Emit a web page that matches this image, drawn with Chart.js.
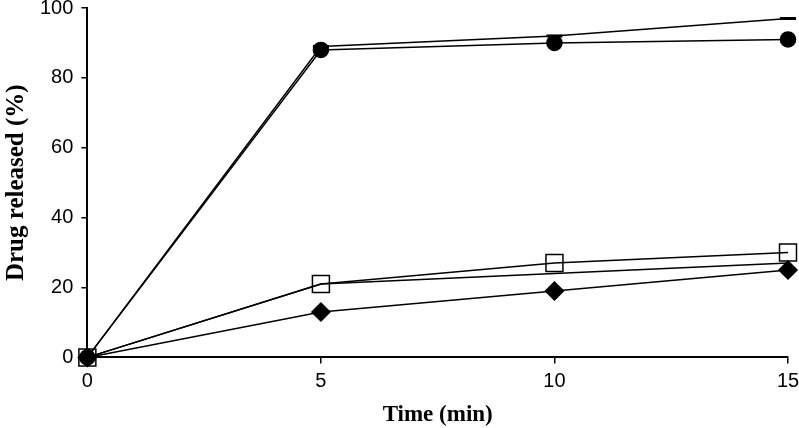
<!DOCTYPE html>
<html>
<head>
<meta charset="utf-8">
<script src="https://cdn.jsdelivr.net/npm/chart.js@4"></script>
<style>
    html, body { margin: 0; padding: 0; background: #fff; }
    #wrap { width: 799px; height: 428px; }
</style>
</head>
<body>
<div id="wrap"><canvas id="canvas"></canvas></div>
<script>
"use strict"

/* Data */
let times = [0, 5, 10, 15];
let circleValues = [0, 88, 90, 91];
let dashValues = [0, 89, 92, 97];
let squareValues = [0, 21, 27, 30];
let plainValues = [0, 21, 24, 27];
let diamondValues = [0, 13, 19, 25];

let yTicks = [0, 20, 40, 60, 80, 100];
let xTicks = [0, 5, 10, 15];

let black = "#000";

function toPoints(values) {
    return times.map((t, i) => ({ x: t, y: values[i] }));
}

function series(values, style, radius, fill) {
    return {
        data: toPoints(values),
        showLine: true,
        borderColor: black,
        borderWidth: 1.5,
        pointStyle: style,
        pointRadius: radius,
        pointBackgroundColor: fill,
        pointBorderColor: black,
        pointBorderWidth: style === "line" ? 3 : 1.5,
    };
}

const ctx = document.getElementById("canvas").getContext("2d");
const myChart = new Chart(ctx, {
    type: "scatter",
    data: {
        datasets: [
            series(plainValues, false, 0, black),
            series(dashValues, "line", 8, black),
            series(squareValues, "rect", 12, "rgba(0,0,0,0)"),
            series(diamondValues, "rectRot", 9, black),
            series(circleValues, "circle", 7.5, black),
        ]
    },
    options: {
        responsive: true,
        maintainAspectRatio: false,
        animation: false,
        clip: false,
        layout: {
            autoPadding: false,
            padding: { top: 8, right: 11, left: -2, bottom: -5 }
        },
        scales: {
            x: {
                type: "linear",
                min: 0,
                max: 15,
                afterBuildTicks: axis => { axis.ticks = xTicks.map(v => ({ value: v })); },
                afterFit: axis => { axis.paddingRight = 0; axis.paddingLeft = 0; },
                grid: {
                    drawOnChartArea: false,
                    drawTicks: true,
                    tickLength: 6,
                    color: black,
                    lineWidth: 1.5,
                },
                border: { color: black, width: 2 },
                ticks: {
                    color: black,
                    padding: 6,
                    font: { family: "Liberation Sans", size: 20 }
                },
                title: {
                    display: true,
                    text: "Time (min)",
                    color: black,
                    padding: { top: 2 },
                    font: { family: "Liberation Serif", size: 23, weight: "bold" }
                }
            },
            y: {
                min: 0,
                max: 100,
                afterBuildTicks: axis => { axis.ticks = yTicks.map(v => ({ value: v })); },
                afterFit: axis => { axis.paddingTop = 0; axis.paddingBottom = 0; },
                grid: {
                    drawOnChartArea: false,
                    drawTicks: true,
                    tickLength: 6,
                    color: black,
                    lineWidth: 1.5,
                },
                border: { color: black, width: 2 },
                ticks: {
                    color: black,
                    padding: 8,
                    font: { family: "Liberation Sans", size: 20 }
                },
                title: {
                    display: true,
                    text: "Drug released (%)",
                    color: black,
                    padding: { bottom: 0 },
                    font: { family: "Liberation Serif", size: 25, weight: "bold" }
                }
            }
        },
        plugins: {
            legend: { display: false },
            tooltip: { enabled: false }
        }
    }
});
</script>
</body>
</html>
